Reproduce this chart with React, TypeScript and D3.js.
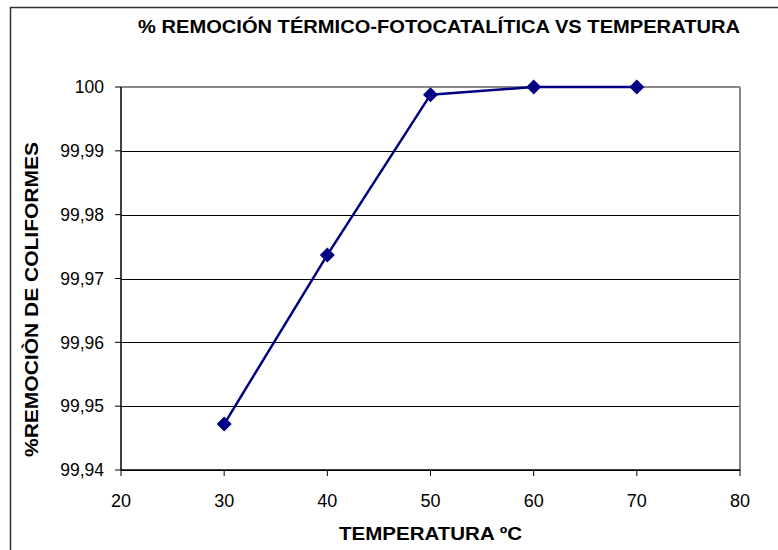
import React from "react";
import * as d3 from "d3";

const temperatures = [30, 40, 50, 60, 70];
const removal = [99.9472, 99.9737, 99.9988, 100, 100];
const xTicks = [20, 30, 40, 50, 60, 70, 80];
const yTicks = [99.94, 99.95, 99.96, 99.97, 99.98, 99.99, 100];

const W = 778;
const H = 550;
const m = { left: 121, right: 740, top: 87, bottom: 470 };

const fmtY = (v: number) => (v === 100 ? "100" : v.toFixed(2).replace(".", ","));

export default function App() {
  const x = d3.scaleLinear().domain([20, 80]).range([m.left, m.right]);
  const y = d3.scaleLinear().domain([99.94, 100]).range([m.bottom, m.top]);
  const pts = temperatures.map((t, i) => [x(t), y(removal[i])] as [number, number]);
  const line = d3.line()(pts) || "";
  const font = "Arial, 'Liberation Sans', sans-serif";
  const r = 7.5;

  return (
    <svg
      width={W}
      height={H}
      style={{ position: "absolute", left: 0, top: 0, background: "#fff" }}
      fontFamily={font}
    >
      <rect x={0} y={0} width={W} height={H} fill="#fff" />
      {/* chart frame */}
      <rect x={10.5} y={7.5} width={W + 10} height={H + 10} fill="none" stroke="#333" strokeWidth={1.5} />

      <text
        x={138}
        y={33}
        fontSize={17.5}
        fontWeight="bold"
        fill="#000"
        textLength={602}
        lengthAdjust="spacingAndGlyphs"
      >
        % REMOCIÓN TÉRMICO-FOTOCATALÍTICA VS TEMPERATURA
      </text>

      {/* horizontal gridlines */}
      {yTicks.slice(0, -1).map((t) => (
        <line key={t} x1={m.left} x2={m.right} y1={Math.round(y(t)) + 0.5} y2={Math.round(y(t)) + 0.5} stroke="#000" strokeWidth={1} />
      ))}
      {/* plot area outline (top/right) */}
      <line x1={m.left} x2={m.right} y1={m.top} y2={m.top} stroke="#888" strokeWidth={2} />
      <line x1={m.right} x2={m.right} y1={m.top} y2={m.bottom} stroke="#888" strokeWidth={2} />

      {/* axes */}
      <line x1={m.left} x2={m.left} y1={m.top} y2={m.bottom} stroke="#000" strokeWidth={1.5} />
      <line x1={m.left} x2={m.right} y1={m.bottom} y2={m.bottom} stroke="#000" strokeWidth={1.5} />
      {yTicks.map((t) => (
        <g key={t}>
          <line x1={m.left - 6} x2={m.left} y1={y(t)} y2={y(t)} stroke="#000" strokeWidth={1} />
          <text x={104} y={y(t)} dy="0.36em" textAnchor="end" fontSize={17.5} fill="#000">
            {fmtY(t)}
          </text>
        </g>
      ))}
      {xTicks.map((t) => (
        <g key={t}>
          <line x1={x(t)} x2={x(t)} y1={m.bottom} y2={m.bottom + 6} stroke="#000" strokeWidth={1} />
          <text x={x(t)} y={507} textAnchor="middle" fontSize={18} fill="#000">
            {t}
          </text>
        </g>
      ))}

      <text
        x={339}
        y={540}
        fontSize={17.5}
        fontWeight="bold"
        fill="#000"
        textLength={183}
        lengthAdjust="spacingAndGlyphs"
      >
        TEMPERATURA ºC
      </text>
      <text
        transform={`translate(38,457) rotate(-90)`}
        fontSize={17.5}
        fontWeight="bold"
        fill="#000"
        textLength={315}
        lengthAdjust="spacingAndGlyphs"
      >
        %REMOCIÒN DE COLIFORMES
      </text>

      {/* series */}
      <path d={line} fill="none" stroke="#000080" strokeWidth={2.5} />
      {pts.map(([px, py], i) => (
        <path key={i} d={`M${px},${py - r}L${px + r},${py}L${px},${py + r}L${px - r},${py}Z`} fill="#000080" />
      ))}
    </svg>
  );
}
